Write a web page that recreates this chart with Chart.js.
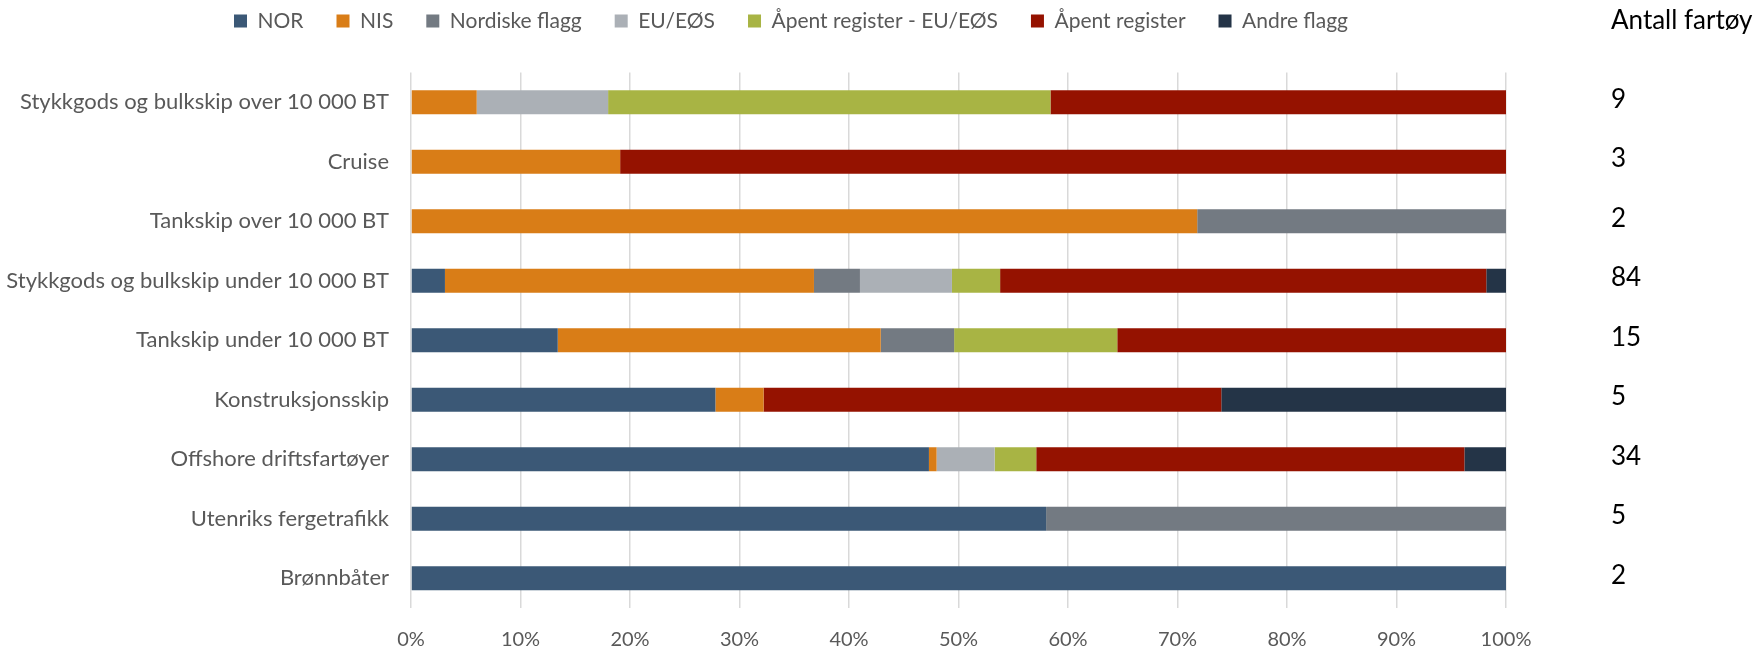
<!DOCTYPE html>
<html>
<head>
<meta charset="utf-8">
<script src="https://cdn.jsdelivr.net/npm/chart.js@4.4.1/dist/chart.umd.min.js"></script>
<style>
  html, body { margin: 0; padding: 0; background: #fff; }
  #wrap { width: 1758px; height: 649px; position: relative; }
</style>
</head>
<body>
<div id="wrap"><canvas id="c" width="1758" height="649"></canvas></div>
<script>
const categories = [
  'Stykkgods og bulkskip over 10 000 BT',
  'Cruise',
  'Tankskip over 10 000 BT',
  'Stykkgods og bulkskip under 10 000 BT',
  'Tankskip under 10 000 BT',
  'Konstruksjonsskip',
  'Offshore driftsfartøyer',
  'Utenriks fergetrafikk',
  'Brønnbåter'
];
const counts = [9, 3, 2, 84, 15, 5, 34, 5, 2];
const countTitle = 'Antall fartøy';

const seriesNames = ['NOR', 'NIS', 'Nordiske flagg', 'EU/EØS', 'Åpent register - EU/EØS', 'Åpent register', 'Andre flagg'];
const nor      = [0,    0,    0,    3.1,  13.4, 27.8, 47.3, 58.0, 100];
const nis      = [6.0,  19.1, 71.8, 33.7, 29.5, 4.4,  0.7,  0,    0];
const nordiske = [0,    0,    28.2, 4.2,  6.7,  0,    0,    42.0, 0];
const euEos    = [12.0, 0,    0,    8.4,  0,    0,    5.3,  0,    0];
const apentEu  = [40.4, 0,    0,    4.4,  14.9, 0,    3.8,  0,    0];
const apent    = [41.6, 80.9, 0,    44.4, 35.5, 41.8, 39.1, 0,    0];
const andre    = [0,    0,    0,    1.8,  0,    26.0, 3.8,  0,    0];
const seriesValues = [nor, nis, nordiske, euEos, apentEu, apent, andre];
const seriesColors = ['#3B5876', '#D97D17', '#737A82', '#ABB0B6', '#A8B444', '#951200', '#243447'];
const xTicks = [0, 10, 20, 30, 40, 50, 60, 70, 80, 90, 100];

const FONT = 'Lato, "Open Sans", sans-serif';

const countsPlugin = {
  id: 'counts',
  afterLayout(chart) {
    // let the long category labels extend left of the axis box without clipping
    chart.scales.y.left = 0;
  },
  afterDraw(chart) {
    const ctx = chart.ctx;
    const ys = chart.scales.y;
    const x = chart.chartArea.right + 105;
    ctx.save();
    ctx.fillStyle = '#000000';
    ctx.font = '26px ' + FONT;
    ctx.textAlign = 'left';
    ctx.textBaseline = 'middle';
    ctx.fillText(countTitle, x, 21);
    counts.forEach((c, i) => {
      ctx.fillText(String(c), x, ys.getPixelForValue(i) - 3);
    });
    ctx.restore();
  }
};

new Chart(document.getElementById('c'), {
  type: 'bar',
  data: {
    labels: categories,
    datasets: seriesNames.map((name, i) => ({
      label: name,
      data: seriesValues[i],
      backgroundColor: seriesColors[i],
      borderWidth: 0,
      barPercentage: 0.5,
      categoryPercentage: 0.8
    }))
  },
  options: {
    indexAxis: 'y',
    responsive: false,
    animation: false,
    devicePixelRatio: 1,
    layout: { padding: { top: -22.5, left: 201, right: 252, bottom: 0 } },
    plugins: {
      legend: {
        position: 'top',
        align: 'start',
        labels: {
          boxWidth: 13,
          boxHeight: 13,
          padding: 33,
          color: '#595959',
          font: { family: FONT, size: 21 }
        }
      },
      title: {
        display: true,
        text: '',
        weight: 500,
        padding: { top: 0, bottom: 0 },
        font: { size: 31, lineHeight: 1 }
      },
      tooltip: { enabled: false }
    },
    scales: {
      x: {
        stacked: true,
        min: 0,
        max: 100,
        afterBuildTicks(scale) { scale.ticks = xTicks.map(v => ({ value: v })); },
        afterFit(scale) { scale.height = 41; },
        grid: { color: '#d9d9d9', lineWidth: 1.5, drawTicks: false },
        border: { display: false },
        ticks: {
          padding: 20,
          color: '#595959',
          font: { family: FONT, size: 20 },
          callback: v => v + '%'
        }
      },
      y: {
        stacked: true,
        afterFit(scale) { scale.width = 210; },
        grid: { display: false, drawTicks: false },
        border: { display: false },
        ticks: {
          padding: 22,
          color: '#595959',
          font: { family: FONT, size: 22 }
        }
      }
    }
  },
  plugins: [countsPlugin]
});
</script>
</body>
</html>
